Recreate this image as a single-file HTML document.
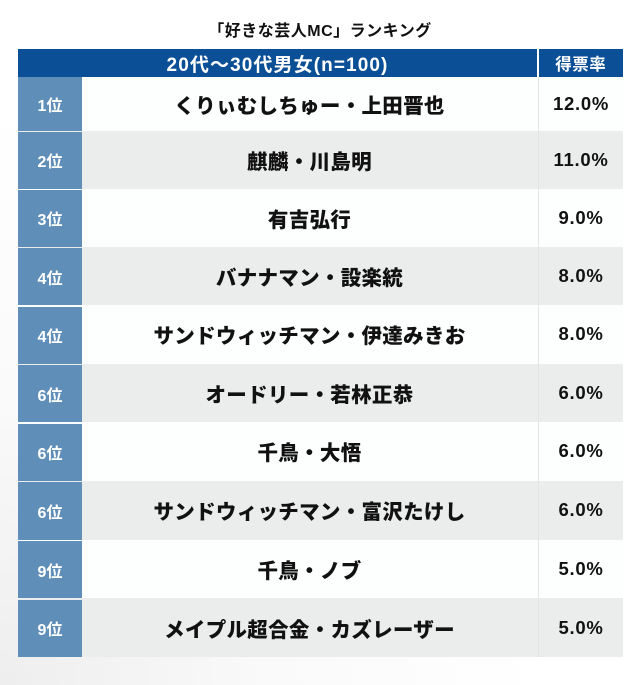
<!DOCTYPE html>
<html><head><meta charset="utf-8">
<style>
html,body{margin:0;padding:0;}
body{width:640px;height:685px;position:relative;overflow:hidden;background:radial-gradient(ellipse at 0% 100%, #eeeeee 0%, #fafafa 30%, #ffffff 60%);font-family:"Liberation Sans","Noto Sans CJK JP",sans-serif;}
.t{position:absolute;left:0;width:640px;top:21px;text-align:center;font-size:16px;font-weight:700;color:#111;line-height:22px;letter-spacing:0.5px;}
.hd{position:absolute;top:49px;height:28px;background:#0b4f96;color:#fff;font-weight:700;display:flex;align-items:center;justify-content:center;}
.row{position:absolute;left:18px;width:605px;}
.rk{position:absolute;left:0;width:64px;background:#5f8fb9;color:#fff;font-weight:700;font-size:16px;display:flex;align-items:center;justify-content:center;}
.nm{position:absolute;left:64px;width:455px;display:flex;align-items:center;justify-content:center;font-size:20.5px;font-weight:900;color:#111;letter-spacing:0.3px;}
.rt{position:absolute;left:520px;width:85px;display:flex;align-items:center;justify-content:center;font-size:18.5px;font-weight:700;color:#111;letter-spacing:0.7px;border-left:1px solid #e3e4e4;box-sizing:border-box;}
.g{background:#ebeded;}
.w{background:#fdfefe;}
</style></head><body>
<div class="t">「好きな芸人MC」ランキング</div>
<div class="hd" style="left:18px;width:519px;font-size:19px;letter-spacing:1.1px;">20代〜30代男女(n=100)</div>
<div style="position:absolute;left:537px;top:49px;width:1.5px;height:28px;background:#fff;"></div>
<div class="hd" style="left:538.5px;width:84.5px;font-size:16.5px;letter-spacing:0.5px;">得票率</div>

<div class="row w" style="top:77px;height:53.5px;"><div class="rk" style="top:0;height:53.5px;">1位</div><div class="nm" style="top:0;height:53.5px;">くりぃむしちゅー・上田晋也</div><div class="rt" style="top:0;height:53.5px;">12.0%</div></div>
<div class="row g" style="top:130.5px;height:58px;"><div class="rk" style="top:1.5px;height:56.5px;">2位</div><div class="nm" style="top:0;height:58px;">麒麟・川島明</div><div class="rt" style="top:0;height:58px;">11.0%</div></div>
<div class="row w" style="top:188.5px;height:58px;"><div class="rk" style="top:1.5px;height:56.5px;">3位</div><div class="nm" style="top:0;height:58px;">有吉弘行</div><div class="rt" style="top:0;height:58px;">9.0%</div></div>
<div class="row g" style="top:246.5px;height:58.5px;"><div class="rk" style="top:1.5px;height:57px;">4位</div><div class="nm" style="top:0;height:58.5px;">バナナマン・設楽統</div><div class="rt" style="top:0;height:58.5px;">8.0%</div></div>
<div class="row w" style="top:305px;height:58.5px;"><div class="rk" style="top:1.5px;height:57px;">4位</div><div class="nm" style="top:0;height:58.5px;">サンドウィッチマン・伊達みきお</div><div class="rt" style="top:0;height:58.5px;">8.0%</div></div>
<div class="row g" style="top:363.5px;height:58.5px;"><div class="rk" style="top:1.5px;height:57px;">6位</div><div class="nm" style="top:0;height:58.5px;">オードリー・若林正恭</div><div class="rt" style="top:0;height:58.5px;">6.0%</div></div>
<div class="row w" style="top:422px;height:58.5px;"><div class="rk" style="top:1.5px;height:57px;">6位</div><div class="nm" style="top:0;height:58.5px;">千鳥・大悟</div><div class="rt" style="top:0;height:58.5px;">6.0%</div></div>
<div class="row g" style="top:480.5px;height:59px;"><div class="rk" style="top:1.5px;height:57.5px;">6位</div><div class="nm" style="top:0;height:59px;">サンドウィッチマン・富沢たけし</div><div class="rt" style="top:0;height:59px;">6.0%</div></div>
<div class="row w" style="top:539.5px;height:58.5px;"><div class="rk" style="top:1.5px;height:57px;">9位</div><div class="nm" style="top:0;height:58.5px;">千鳥・ノブ</div><div class="rt" style="top:0;height:58.5px;">5.0%</div></div>
<div class="row g" style="top:598px;height:59px;"><div class="rk" style="top:1.5px;height:57.5px;">9位</div><div class="nm" style="top:0;height:59px;">メイプル超合金・カズレーザー</div><div class="rt" style="top:0;height:59px;">5.0%</div></div>
</body></html>
